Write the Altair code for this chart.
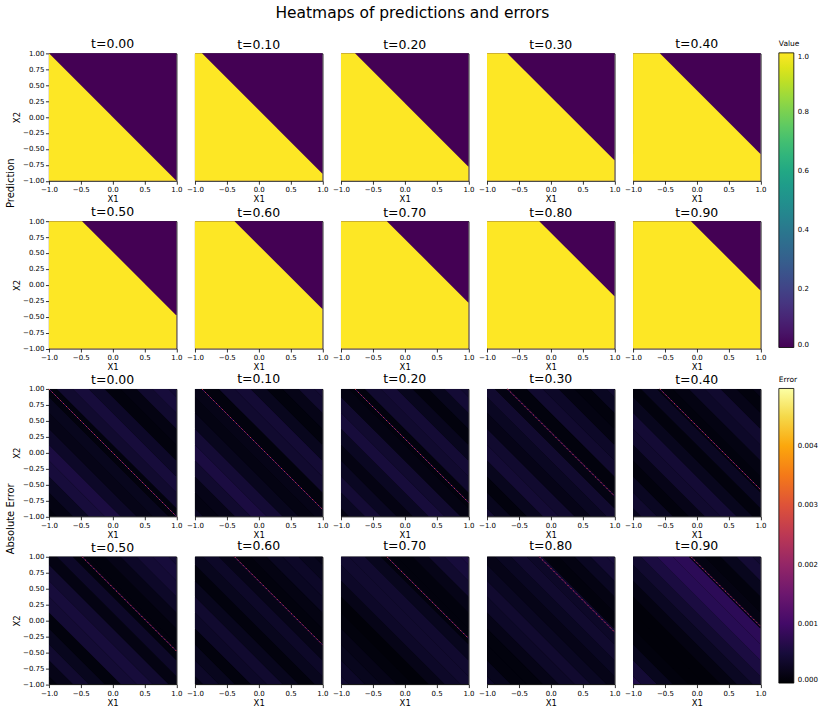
import altair as alt
import pandas as pd

FONT = "DejaVu Sans"

# ---------------- data ----------------
t_labels = ["t=0.00", "t=0.10", "t=0.20", "t=0.30", "t=0.40",
            "t=0.50", "t=0.60", "t=0.70", "t=0.80", "t=0.90"]
# decision boundary x1 + x2 = c for each time step
boundary = [0.00, 0.11, 0.22, 0.32, 0.42, 0.52, 0.62, 0.72, 0.82, 0.91]
pred_inside = 1.0
pred_outside = 0.0

# absolute-error profile across the diagonal coordinate s = x1 + x2 (units of 1e-4)
err_s = [-2.0, -1.75, -1.5, -1.25, -1.0, -0.75, -0.5, -0.25, 0.0,
         0.25, 0.5, 0.75, 1.0, 1.25, 1.5, 1.75, 2.0]
err_band_half = 0.125
err_e4 = [
    [1.0, 1.5, 3.0, 5.0, 5.5, 3.5, 2.0, 2.5, 1.0, 4.0, 5.0, 3.5, 1.0, 1.5, 4.0, 5.0, 4.5],
    [3.0, 1.5, 2.0, 4.0, 5.5, 4.5, 2.5, 1.5, 2.0, 1.0, 4.0, 4.5, 2.5, 1.0, 2.0, 4.0, 4.5],
    [1.5, 3.0, 4.5, 3.0, 1.5, 3.0, 5.0, 4.0, 1.5, 1.0, 4.0, 4.5, 2.5, 1.0, 2.5, 4.5, 4.0],
    [4.0, 2.5, 1.0, 2.5, 4.5, 4.0, 2.0, 3.0, 4.0, 1.5, 1.0, 4.0, 3.5, 1.5, 1.0, 3.0, 4.0],
    [2.5, 4.0, 3.0, 1.0, 2.0, 4.0, 4.5, 2.5, 1.0, 3.0, 1.0, 1.5, 3.5, 4.0, 2.0, 1.0, 2.0],
    [1.0, 2.0, 4.0, 2.5, 1.0, 4.5, 5.0, 4.0, 1.5, 3.5, 1.0, 1.0, 2.0, 3.5, 4.5, 5.0, 4.5],
    [2.0, 3.5, 2.5, 1.0, 3.5, 4.0, 2.5, 1.0, 2.5, 3.5, 2.0, 1.0, 1.5, 3.0, 3.5, 2.5, 2.0],
    [4.0, 3.5, 2.5, 2.0, 1.0, 0.5, 2.0, 3.5, 4.0, 4.0, 2.5, 1.0, 1.0, 2.0, 4.0, 5.0, 5.5],
    [3.5, 2.5, 1.0, 1.0, 2.0, 3.5, 4.0, 3.0, 2.0, 3.0, 4.0, 3.5, 1.0, 1.5, 3.0, 4.5, 5.0],
    [6.0, 4.5, 2.5, 1.0, 0.5, 0.5, 1.5, 3.0, 4.0, 5.5, 7.0, 7.5, 1.5, 1.0, 2.5, 4.5, 4.0],
]
err_floor = 0.00003
err_line_base = 0.0010
err_line_dots = 0.0028
err_max = 0.00497

value_ticks = [0.0, 0.2, 0.4, 0.6, 0.8, 1.0]
error_ticks = [0.0, 0.001, 0.002, 0.003, 0.004]
x_ticks = [-1.0, -0.5, 0.0, 0.5, 1.0]
y_ticks = [-1.0, -0.75, -0.5, -0.25, 0.0, 0.25, 0.5, 0.75, 1.0]
row_labels = {0: "Prediction", 10: "Absolute Error"}

# ---------------- layout ----------------
W, H = 127.6, 127.5
COL_GAP, ROW_GAP = 18.2, 40
LEGEND_PANEL = 4


def clip(v):
    return min(1.0, max(-1.0, v))


def band_rows(lo, hi, v, band):
    """Polygon of {lo <= x1 + x2 <= hi} inside the square, as an area (x, y..y2)."""
    xs = {-1.0, 1.0}
    for p in (lo - 1, lo + 1, hi - 1, hi + 1):
        if -1.0 < p < 1.0:
            xs.add(p)
    return [dict(band=band, x=x, y=clip(lo - x), y2=clip(hi - x), v=v) for x in sorted(xs)]


LEG = dict(type="gradient", orient="none", legendX=146, legendY=-13, direction="vertical",
           gradientLength=295, gradientThickness=15, labelFontSize=7, labelFont=FONT,
           titleFont=FONT, titleFontSize=7.5, titleFontWeight="normal", titlePadding=5,
           labelOffset=4, gradientStrokeColor="black", gradientStrokeWidth=0.8,
           labelColor="black", titleColor="black", labelOverlap=False)


def make_panel(idx, kind):
    c = boundary[idx]
    col = idx % 5
    show_legend = idx == LEGEND_PANEL
    if kind == "pred":
        scale = alt.Scale(scheme="viridis", domain=[0, 1])
        legend = alt.Legend(title="Value", values=value_ticks, format=".1f", **LEG) if show_legend else None
        bg = band_rows(-2, 2, pred_outside, "bg")
        bands = band_rows(-2, c, pred_inside, "in")
    else:
        scale = alt.Scale(scheme="inferno", domain=[0, err_max])
        legend = alt.Legend(title="Error", values=error_ticks, format=".3f", **LEG) if show_legend else None
        bg = band_rows(-2, 2, err_floor, "bg")
        bands = []
        for j, s in enumerate(err_s):
            bands += band_rows(max(-2.0, s - err_band_half), min(2.0, s + err_band_half),
                               err_e4[idx][j] * 1e-4, "b%02d" % j)

    color = alt.Color("v:Q", scale=scale, legend=legend)
    line_stroke = alt.Stroke("v:Q", scale=alt.Scale(scheme="inferno", domain=[0, err_max]), legend=None)
    xenc = alt.X("x:Q", scale=alt.Scale(domain=[-1, 1], nice=False, zero=False),
                 axis=alt.Axis(values=x_ticks, format=".1f", title="X1"))
    yaxis = alt.Axis(values=y_ticks, format=".2f", title="X2") if col == 0 else None
    yenc = alt.Y("y:Q", scale=alt.Scale(domain=[-1, 1], nice=False, zero=False),
                 axis=yaxis, stack=None)

    def area(rows):
        return alt.Chart(pd.DataFrame(rows)).mark_area(opacity=1, interpolate="linear").encode(
            x=xenc, y=yenc, y2="y2:Q", color=color, detail="band:N")

    layers = [area(bg), area(bands)]
    if kind == "err":
        x0, x1 = max(-1.0, c - 1), min(1.0, c + 1)
        base = pd.DataFrame({"x": [x0, x1], "y": [c - x0, c - x1], "v": [err_line_base] * 2})
        dots = pd.DataFrame({"x": [x0, x1], "y": [c - x0, c - x1], "v": [err_line_dots] * 2})
        layers.append(alt.Chart(base).mark_line(strokeWidth=0.9).encode(
            x=xenc, y=yenc, stroke=line_stroke))
        layers.append(alt.Chart(dots).mark_line(strokeWidth=0.9, strokeDash=[1.5, 2.5]).encode(
            x=xenc, y=yenc, stroke=line_stroke))
    key = idx if kind == "pred" else idx + 10
    if key in row_labels:
        lab = pd.DataFrame({"label": [row_labels[key]]})
        layers.append(alt.Chart(lab).mark_text(angle=270, font=FONT, fontSize=10, color="black").encode(
            x=alt.value(-38), y=alt.value(130), text="label:N"))

    title_kw = dict(fontSize=12.5, fontWeight="normal", font=FONT, offset=2,
                    color="black", anchor="middle", frame="group")
    if show_legend:
        title_kw["dy"] = 12.5
    elif col == 0:
        title_kw["dy"] = 3.5
    return alt.layer(*layers).properties(
        width=W, height=H, title=alt.TitleParams(t_labels[idx], **title_kw))


panels = [make_panel(i, "pred") for i in range(10)] + [make_panel(i, "err") for i in range(10)]

chart = alt.concat(
    *panels, columns=5, spacing=alt.RowColnumber(row=ROW_GAP, column=COL_GAP), bounds="flush"
).resolve_scale(color="independent").properties(
    title=alt.TitleParams("Heatmaps of predictions and errors", fontSize=15.5, fontWeight="normal",
                          font=FONT, anchor="middle", offset=16.5, color="black"),
    padding={"left": 5, "top": 5, "right": 5, "bottom": 5},
).configure_axis(
    labelFont=FONT, titleFont=FONT, labelFontSize=7, titleFontSize=8.5, titleFontWeight="normal",
    labelColor="black", titleColor="black", tickColor="black", tickSize=3.5, tickWidth=0.8,
    domain=False, grid=False, labelPadding=1.5, labelFlush=False, labelOverlap=False,
).configure_axisY(titlePadding=1).configure_axisX(titlePadding=2).configure_view(
    stroke="black", strokeWidth=1.0
)

chart.save("out.html", embed_options={"renderer": "svg", "actions": False})
